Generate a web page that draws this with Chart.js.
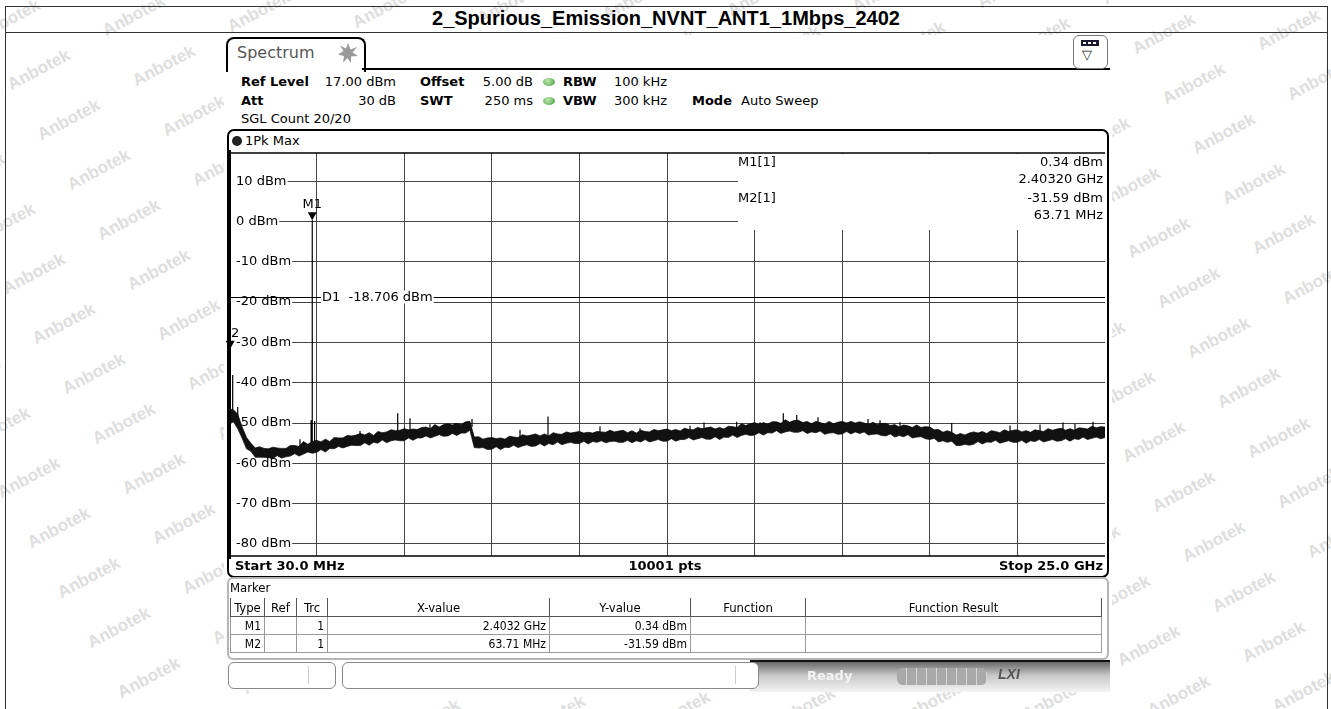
<!DOCTYPE html>
<html>
<head>
<meta charset="utf-8">
<script src="https://cdn.jsdelivr.net/npm/chart.js@4.4.0/dist/chart.umd.min.js"></script>
<style>
  body { margin:0; width:1331px; height:709px; background:#fff; position:relative; overflow:hidden;
         font-family:"DejaVu Sans", sans-serif; color:#000; }
  .abs { position:absolute; white-space:nowrap; }
  .wm { position:absolute; font:bold 17px "Liberation Sans", sans-serif; color:#dedede;
        transform:rotate(-28deg); transform-origin:center; white-space:nowrap; }
  .t13 { font-size:13px; line-height:16px; }
  .b { font-weight:bold; }
  #screen { position:absolute; left:224px; top:35px; width:888px; height:655px; background:#fff; }
  #chartBox { position:absolute; left:226px; top:150px; width:882px; height:409px; }
  table.mk { position:absolute; left:230px; top:598px; border-collapse:collapse;
             font:12px "DejaVu Sans Condensed", "DejaVu Sans", sans-serif; table-layout:fixed; }
  table.mk td { border:1px solid #9a9a9a; padding:0 3px; height:17px; }
  table.mk tr.h td { border:1px solid #555; border-top:none; text-align:center; font-size:13px; height:18px; }
  table.mk td.r { text-align:right; }
</style>
</head>
<body>
<div id="wms"></div>

<!-- report table frame -->
<div class="abs" style="left:5px;top:6px;width:1321px;height:720px;border:1px solid #333;"></div>
<div class="abs" style="left:5px;top:32px;width:1322px;height:1px;background:#333;"></div>
<div class="abs b" style="left:5px;top:7px;width:1322px;text-align:center;font:bold 20px 'Liberation Sans',sans-serif;">2_Spurious_Emission_NVNT_ANT1_1Mbps_2402</div>

<div id="screen"></div>

<!-- tab + header -->
<div class="abs" style="left:226px;top:37px;width:136px;height:33px;border:2px solid #000;border-bottom:none;border-radius:8px 8px 0 0;"></div>
<div class="abs" style="left:362px;top:68px;width:748px;height:2px;background:#000;"></div>
<div class="abs" style="left:237px;top:43px;font-size:16px;color:#555;">Spectrum</div>
<svg class="abs" style="left:337px;top:42px;" width="22" height="22" viewBox="0 0 22 22">
  <polygon points="11,1 13.5,7.5 20,5 15.5,10.5 21,14 14,14.5 14,21 10.5,16 6,20.5 7,14 1,12.5 6.5,9 3,3.5 9,6.5" fill="#9a9a9a"/>
</svg>
<div class="abs" style="left:1073px;top:35px;width:33px;height:32px;border:1.5px solid #777;border-radius:6px;background:#fff;"></div>
<div class="abs" style="left:1081px;top:40px;width:18px;height:6px;background:#1a1a2e;"></div>
<div class="abs" style="left:1083px;top:42px;width:3px;height:2px;background:#fff;"></div>
<div class="abs" style="left:1088px;top:42px;width:3px;height:2px;background:#fff;"></div>
<div class="abs" style="left:1093px;top:42px;width:3px;height:2px;background:#fff;"></div>
<div class="abs" style="left:1082px;top:47px;font-size:13px;color:#222;">&#9661;</div>

<div class="abs t13 b" style="left:241px;top:74px;">Ref Level</div>
<div class="abs t13" style="left:256px;top:74px;width:140px;text-align:right;">17.00 dBm</div>
<div class="abs t13 b" style="left:420px;top:74px;">Offset</div>
<div class="abs t13" style="left:460px;top:74px;width:73px;text-align:right;">5.00 dB</div>
<div class="abs" style="left:543px;top:78px;width:12px;height:8px;border-radius:50%;background:radial-gradient(circle at 40% 35%,#bfe8b0,#3f9a3a);"></div>
<div class="abs t13 b" style="left:563px;top:74px;">RBW</div>
<div class="abs t13" style="left:597px;top:74px;width:70px;text-align:right;">100 kHz</div>

<div class="abs t13 b" style="left:241px;top:93px;">Att</div>
<div class="abs t13" style="left:256px;top:93px;width:140px;text-align:right;">30 dB</div>
<div class="abs t13 b" style="left:420px;top:93px;">SWT</div>
<div class="abs t13" style="left:460px;top:93px;width:73px;text-align:right;">250 ms</div>
<div class="abs" style="left:543px;top:97px;width:12px;height:8px;border-radius:50%;background:radial-gradient(circle at 40% 35%,#bfe8b0,#3f9a3a);"></div>
<div class="abs t13 b" style="left:563px;top:93px;">VBW</div>
<div class="abs t13" style="left:597px;top:93px;width:70px;text-align:right;">300 kHz</div>
<div class="abs t13 b" style="left:692px;top:93px;">Mode</div>
<div class="abs t13" style="left:741px;top:93px;">Auto Sweep</div>

<div class="abs t13" style="left:241px;top:111px;">SGL Count 20/20</div>

<!-- plot frame -->
<div class="abs" style="left:227px;top:129px;width:878px;height:445px;border:2px solid #000;border-radius:7px;"></div>
<div class="abs" style="left:232px;top:136px;width:10px;height:10px;border-radius:50%;background:#222;"></div>
<div class="abs t13" style="left:245px;top:133px;">1Pk Max</div>
<div id="chartBox"><canvas id="c" width="882" height="409"></canvas></div>
<div class="abs t13 b" style="left:235px;top:558px;">Start 30.0 MHz</div>
<div class="abs t13 b" style="left:560px;top:558px;width:210px;text-align:center;">10001 pts</div>
<div class="abs t13 b" style="left:900px;top:558px;width:203px;text-align:right;">Stop 25.0 GHz</div>

<!-- marker table -->
<div class="abs" style="left:227px;top:577px;width:878px;height:79px;border:2px solid #b5b5b5;border-radius:6px;"></div>
<div class="abs" style="left:230px;top:580px;font:13px 'DejaVu Sans Condensed','DejaVu Sans',sans-serif;">Marker</div>
<table class="mk">
  <colgroup><col style="width:34px"><col style="width:32px"><col style="width:31px"><col style="width:222px"><col style="width:141px"><col style="width:115px"><col style="width:296px"></colgroup>
  <tr class="h"><td>Type</td><td>Ref</td><td>Trc</td><td>X-value</td><td>Y-value</td><td>Function</td><td>Function Result</td></tr>
  <tr><td class="r">M1</td><td></td><td class="r">1</td><td class="r">2.4032 GHz</td><td class="r">0.34 dBm</td><td></td><td></td></tr>
  <tr><td class="r">M2</td><td></td><td class="r">1</td><td class="r">63.71 MHz</td><td class="r">-31.59 dBm</td><td></td><td></td></tr>
</table>

<!-- status bar -->
<div class="abs" style="left:750px;top:660px;width:360px;height:30px;background:linear-gradient(#6a6a6a,#c8c8c8 45%,#f4f4f4);border-top:2px solid #111;"></div>
<div class="abs" style="left:228px;top:662px;width:106px;height:25px;border:1px solid #888;border-radius:6px;background:#fff;"></div>
<div class="abs" style="left:308px;top:666px;width:1px;height:18px;background:#ccc;"></div>
<div class="abs" style="left:342px;top:662px;width:415px;height:25px;border:1px solid #888;border-radius:6px;background:#fff;"></div>
<div class="abs" style="left:735px;top:666px;width:1px;height:18px;background:#ccc;"></div>
<div class="abs" style="left:807px;top:668px;font:bold 13px 'DejaVu Sans',sans-serif;color:#f4f4f4;">Ready</div>
<div class="abs" style="left:897px;top:668px;width:90px;height:17px;border-radius:6px;background:repeating-linear-gradient(90deg,#a9a9a9 0 9px,#d8d8d8 9px 10px);"></div>
<div class="abs" style="left:998px;top:666px;font:italic bold 14px 'Liberation Sans',sans-serif;color:#555;">LXI</div>

<script>
// sweep settings
const startMHz = 30, stopMHz = 25000, sweepPts = 201;
const refLevel = 17, bottomLevel = -83;
const d1Level = -18.706;

// trace 1 (1Pk Max): upper and lower edge of the noise band, dBm per sweep step
const traceMaxDbm = [
  -46.5, -46.7, -47.8, -51.0, -53.6, -55.0, -56.2, -55.9, -56.3, -56.4,
  -56.0, -56.2, -56.3, -56.3, -55.6, -55.6, -55.8, -54.6, -55.3, -54.6,
  -54.3, -54.7, -54.0, -54.6, -53.6, -53.7, -53.7, -53.1, -53.2, -53.0,
  -52.6, -53.0, -52.4, -53.1, -52.1, -52.4, -52.2, -51.7, -51.9, -51.8,
  -51.4, -51.7, -51.5, -51.6, -51.1, -51.0, -51.4, -50.4, -51.0, -50.4,
  -50.2, -50.5, -50.1, -50.4, -49.7, -49.6, -53.5, -53.4, -54.0, -53.7,
  -53.6, -53.9, -53.7, -54.0, -53.3, -53.5, -53.6, -52.9, -53.2, -53.0,
  -52.7, -53.2, -52.7, -53.2, -52.4, -52.7, -52.8, -52.2, -52.5, -52.3,
  -52.1, -52.5, -52.3, -52.5, -52.1, -52.2, -52.3, -51.8, -52.2, -52.0,
  -51.8, -52.4, -51.9, -52.5, -51.8, -52.1, -52.2, -51.6, -51.9, -51.7,
  -51.5, -51.9, -51.6, -52.0, -51.3, -51.6, -51.7, -51.1, -51.4, -51.2,
  -51.0, -51.5, -51.1, -51.5, -50.8, -50.9, -51.1, -50.2, -50.6, -50.2,
  -49.9, -50.4, -49.9, -50.3, -49.7, -49.7, -50.1, -49.2, -49.8, -49.4,
  -49.3, -49.9, -49.6, -50.2, -49.6, -49.9, -50.3, -49.6, -50.2, -49.8,
  -49.6, -50.0, -49.6, -50.0, -49.7, -50.0, -50.4, -49.8, -50.4, -50.1,
  -50.1, -50.6, -50.4, -51.0, -50.5, -50.7, -51.1, -50.5, -51.1, -50.9,
  -51.0, -51.7, -51.6, -52.3, -51.9, -52.3, -53.0, -52.6, -53.0, -52.5,
  -52.2, -52.5, -52.1, -52.6, -51.9, -52.1, -52.4, -51.7, -52.1, -51.8,
  -51.7, -52.2, -51.9, -52.3, -51.7, -51.9, -52.1, -51.4, -51.8, -51.5,
  -51.3, -51.8, -51.4, -51.8, -51.2, -51.3, -51.5, -50.8, -51.2, -50.9,
  -51.0
];
const traceMinDbm = [
  -50.4, -49.7, -51.4, -53.8, -56.4, -57.0, -58.5, -58.5, -58.5, -58.6,
  -58.8, -58.1, -58.7, -58.4, -58.2, -57.6, -58.2, -57.7, -57.2, -57.5,
  -57.3, -56.6, -57.2, -56.3, -56.4, -55.8, -56.2, -55.8, -55.5, -55.6,
  -55.6, -54.9, -55.5, -54.8, -55.0, -54.2, -54.9, -54.4, -54.2, -54.4,
  -54.4, -53.7, -54.3, -53.7, -53.7, -53.2, -53.7, -53.3, -52.9, -53.3,
  -53.2, -52.6, -53.1, -52.5, -52.5, -51.8, -56.1, -56.2, -56.1, -56.6,
  -56.5, -55.9, -56.6, -56.0, -56.1, -55.5, -56.1, -55.7, -55.4, -55.8,
  -55.7, -55.1, -55.7, -55.1, -55.4, -54.7, -55.4, -55.0, -54.8, -55.1,
  -55.1, -54.5, -55.2, -54.6, -54.8, -54.4, -54.9, -54.6, -54.5, -54.8,
  -54.8, -54.3, -54.9, -54.4, -54.7, -54.1, -54.7, -54.4, -54.1, -54.5,
  -54.5, -53.9, -54.5, -54.1, -54.1, -53.6, -54.2, -53.9, -53.6, -54.0,
  -54.0, -53.4, -54.1, -53.5, -53.6, -53.0, -53.6, -53.1, -52.8, -53.1,
  -53.0, -52.4, -53.0, -52.4, -52.5, -51.9, -52.6, -52.2, -52.0, -52.3,
  -52.3, -51.9, -52.6, -52.2, -52.4, -52.0, -52.8, -52.5, -52.4, -52.8,
  -52.7, -52.1, -52.7, -52.2, -52.6, -52.2, -53.0, -52.8, -52.7, -53.1,
  -53.2, -52.7, -53.5, -53.1, -53.4, -52.9, -53.7, -53.5, -53.4, -53.9,
  -54.1, -53.8, -54.7, -54.4, -54.8, -54.5, -55.6, -55.6, -55.3, -55.5,
  -55.3, -54.6, -55.2, -54.7, -54.8, -54.3, -55.0, -54.7, -54.4, -54.8,
  -54.8, -54.3, -55.0, -54.4, -54.6, -54.1, -54.7, -54.4, -54.1, -54.5,
  -54.4, -53.9, -54.5, -53.9, -54.1, -53.5, -54.1, -53.8, -53.5, -53.9,
  -53.6
];

// narrow peaks riding on the trace
const spikeMHz  = [63.71, 135, 278, 2054, 2370, 2403.2, 2470, 3764, 4839, 5189, 5760, 6472, 6957, 8325, 9123,
                   10605, 11746, 13171, 13570, 14502, 15166, 15830, 16212, 16819, 18245, 18587, 19157, 20631,
                   22293, 23148, 23803, 24145, 24658];
const spikeTop  = [-31.59, -38.1, -46.0, -54.0, -49.3, 0.34, -49.5, -52.0, -47.6, -48.8, -50.3, -50.0, -49.0, -51.7, -48.4,
                   -50.8, -51.3, -50.7, -49.9, -49.7, -49.8, -47.6, -48.0, -48.6, -49.0, -49.3, -49.8, -50.0,
                   -50.6, -50.4, -49.9, -50.2, -49.7];
const spikeBase = [-49.0, -48.0, -49.0, -56.0, -56.0, -55.8, -56.0, -54.0, -53.0, -53.0, -53.0, -52.3, -51.0, -54.0, -54.0,
                   -54.0, -54.0, -53.6, -53.2, -52.7, -52.4, -51.2, -51.0, -51.0, -51.6, -51.8, -52.0, -53.5,
                   -53.4, -53.2, -53.3, -52.8, -52.6];

// markers
const markerName = ['M1', '2'];
const markerMHz  = [2403.2, 63.71];
const markerDbm  = [0.34, -31.59];
const markerInfo = [
  ['M1[1]', '0.34 dBm', '2.40320 GHz'],
  ['M2[1]', '-31.59 dBm', '63.71 MHz']
];

// y axis
const yTicks  = [10, 0, -10, -20, -30, -40, -50, -60, -70, -80];
const yLabels = ['10 dBm', '0 dBm', '-10 dBm', '-20 dBm', '-30 dBm', '-40 dBm', '-50 dBm', '-60 dBm', '-70 dBm', '-80 dBm'];
const xDivisions = 10;

// watermarks behind the screenshot
const wms = document.getElementById('wms');
for (let i = -14; i < 16; i++) {
  for (let j = -2; j < 14; j++) {
    const x = 40 + i * 30 + j * 125;
    const y = 70 + i * 50 - j * 4;
    if (x < -60 || x > 1340 || y < -20 || y > 720) continue;
    const s = document.createElement('div');
    s.className = 'wm';
    s.textContent = 'Anbotek';
    s.style.left = (x - 35) + 'px';
    s.style.top = (y - 10) + 'px';
    wms.appendChild(s);
  }
}

const step = (stopMHz - startMHz) / (sweepPts - 1);
const maxPts = traceMaxDbm.map((v, i) => ({ x: startMHz + i * step, y: v }));
const minPts = traceMinDbm.map((v, i) => ({ x: startMHz + i * step, y: v }));
const spikePts = [];
spikeMHz.forEach((f, i) => {
  spikePts.push({ x: f, y: spikeBase[i] }, { x: f, y: spikeTop[i] }, { x: f, y: null });
});

const font13 = '13px "DejaVu Sans"';
const infoLeft = 512; // left edge of the marker field, canvas px

const overlay = {
  id: 'overlay',
  beforeDatasetsDraw(chart) {
    const { ctx, chartArea: a, scales: { y } } = chart;
    ctx.save();
    ctx.font = font13;
    ctx.textBaseline = 'middle';
    // level labels sit on their grid lines
    yTicks.forEach((v, i) => {
      const py = y.getPixelForValue(v);
      const w = ctx.measureText(yLabels[i]).width;
      ctx.fillStyle = '#fff';
      ctx.fillRect(a.left + 2, py - 6, w + 6, 12);
      ctx.fillStyle = '#000';
      ctx.fillText(yLabels[i], a.left + 7, py);
    });
    // marker info field
    ctx.fillStyle = '#fff';
    ctx.fillRect(infoLeft, a.top + 1, a.right - infoLeft, 76);
    ctx.fillStyle = '#000';
    markerInfo.forEach((m, i) => {
      const top = a.top + 10 + i * 36;
      ctx.textAlign = 'left';
      ctx.fillText(m[0], infoLeft, top);
      ctx.textAlign = 'right';
      ctx.fillText(m[1], a.right - 2, top);
      ctx.fillText(m[2], a.right - 2, top + 17);
    });
    // display line D1
    const dy = Math.round(y.getPixelForValue(d1Level)) + 0.5;
    ctx.strokeStyle = '#000';
    ctx.lineWidth = 1;
    ctx.beginPath();
    ctx.moveTo(a.left, dy);
    ctx.lineTo(a.right, dy);
    ctx.stroke();
    const d1Text = 'D1  -18.706 dBm';
    ctx.textAlign = 'left';
    const dw = ctx.measureText(d1Text).width;
    ctx.fillStyle = '#fff';
    ctx.fillRect(a.left + 92, dy - 7, dw + 2, 13);
    ctx.fillStyle = '#000';
    ctx.fillText(d1Text, a.left + 93, dy);
    ctx.restore();
  },
  afterDatasetsDraw(chart) {
    const { ctx, scales: { x, y } } = chart;
    ctx.save();
    ctx.font = font13;
    ctx.fillStyle = '#000';
    ctx.textAlign = 'center';
    ctx.textBaseline = 'bottom';
    markerName.forEach((n, i) => {
      const px = x.getPixelForValue(markerMHz[i]);
      const py = y.getPixelForValue(markerDbm[i]);
      ctx.beginPath();
      ctx.moveTo(px - 4.5, py - 8);
      ctx.lineTo(px + 4.5, py - 8);
      ctx.lineTo(px, py);
      ctx.closePath();
      ctx.fill();
      ctx.fillText(n, px + (i === 1 ? 5 : 0), py - 9);
    });
    ctx.restore();
  },
  afterDraw(chart) {
    const { ctx, chartArea: a } = chart;
    ctx.save();
    ctx.strokeStyle = '#000';
    ctx.lineWidth = 1.5;
    ctx.beginPath();
    ctx.moveTo(a.left, a.top); ctx.lineTo(a.right, a.top);
    ctx.moveTo(a.left, a.bottom); ctx.lineTo(a.right, a.bottom);
    ctx.stroke();
    ctx.lineWidth = 3;
    ctx.beginPath();
    ctx.moveTo(a.left + 0.5, a.top - 25); ctx.lineTo(a.left + 0.5, a.bottom + 20);
    ctx.stroke();
    ctx.restore();
  }
};

new Chart(document.getElementById('c'), {
  type: 'line',
  data: {
    datasets: [
      { data: maxPts, borderColor: '#000', backgroundColor: '#111', fill: '+1', borderWidth: 0.7, pointRadius: 0, tension: 0 },
      { data: minPts, borderColor: '#000', borderWidth: 0.7, pointRadius: 0, tension: 0 },
      { data: spikePts, borderColor: '#000', borderWidth: 1.2, pointRadius: 0, spanGaps: false }
    ]
  },
  options: {
    responsive: false,
    animation: false,
    devicePixelRatio: 1,
    layout: { padding: { left: 3, right: 3, top: 3, bottom: 3 } },
    plugins: { legend: { display: false }, tooltip: { enabled: false } },
    scales: {
      x: {
        type: 'linear', min: startMHz, max: stopMHz,
        afterBuildTicks: s => {
          const t = [];
          for (let k = 1; k < xDivisions; k++) t.push({ value: startMHz + k * (stopMHz - startMHz) / xDivisions });
          s.ticks = t;
        },
        ticks: { display: false },
        grid: { color: '#444', lineWidth: 1, drawTicks: false },
        border: { display: false }
      },
      y: {
        min: bottomLevel, max: refLevel,
        afterBuildTicks: s => { s.ticks = yTicks.map(v => ({ value: v })); },
        ticks: { display: false },
        grid: { color: '#444', lineWidth: 1, drawTicks: false },
        border: { display: false }
      }
    }
  },
  plugins: [overlay]
});
</script>
</body>
</html>
